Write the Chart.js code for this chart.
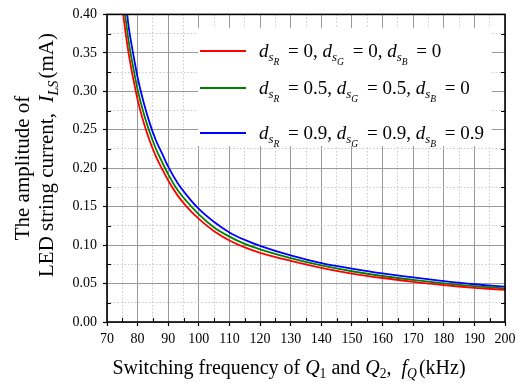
<!DOCTYPE html>
<html>
<head>
<meta charset="utf-8">
<script src="https://cdn.jsdelivr.net/npm/chart.js@4"></script>
<style>
html, body { margin: 0; padding: 0; background: #fff; }
#wrap { width: 522px; height: 384px; }
</style>
</head>
<body>
<div id="wrap"><canvas id="ilsChart"></canvas></div>
<script>
// values (kHz, mA)
const redFreq   = [75.3, 76, 77, 78, 79, 80, 82, 84, 86, 88, 90, 93, 96, 100, 105, 110, 115, 120, 130, 140, 150, 160, 170, 180, 190, 200];
const redAmp    = [0.400, 0.378, 0.351, 0.328, 0.308, 0.289, 0.259, 0.235, 0.215, 0.199, 0.184, 0.165, 0.150, 0.134, 0.118, 0.106, 0.097, 0.0900, 0.0795, 0.0705, 0.0630, 0.0572, 0.0523, 0.0480, 0.0445, 0.0417];
const greenFreq = [75.9, 77, 78, 79, 80, 82, 84, 86, 88, 90, 93, 96, 100, 105, 110, 115, 120, 130, 140, 150, 160, 170, 180, 190, 200];
const greenAmp  = [0.400, 0.367, 0.343, 0.322, 0.302, 0.271, 0.246, 0.225, 0.208, 0.192, 0.172, 0.157, 0.140, 0.123, 0.111, 0.1015, 0.0945, 0.0830, 0.0735, 0.0660, 0.0598, 0.0548, 0.0503, 0.0466, 0.0437];
const blueFreq  = [76.6, 77, 78, 79, 80, 82, 84, 86, 88, 90, 93, 96, 100, 105, 110, 115, 120, 130, 140, 150, 160, 170, 180, 190, 200];
const blueAmp   = [0.400, 0.386, 0.361, 0.339, 0.318, 0.285, 0.258, 0.236, 0.219, 0.202, 0.181, 0.165, 0.147, 0.130, 0.1165, 0.1067, 0.0990, 0.0865, 0.0765, 0.0695, 0.0632, 0.0580, 0.0532, 0.0491, 0.0460];

// legend values d_sR, d_sG, d_sB for each curve
const dsR = ["0", "0.5", "0.9"];
const dsG = ["0", "0.5", "0.9"];
const dsB = ["0", "0", "0.9"];
const seriesColors = ["#ff0000", "#008000", "#0000ff"];

const xMin = 70, xMax = 200, xMajor = 10, xMinor = 5;
const yMin = 0, yMax = 0.40, yMajor = 0.05, yMinor = 0.025;

const SERIF = '"Liberation Serif", "Times New Roman", serif';

function toPoints(xs, ys) {
    return xs.map((x, i) => ({ x: x, y: ys[i] }));
}

function isMajorX(v) { return Math.abs(v % xMajor) < 1e-6; }
function isMajorY(v) { return Math.abs(Math.round(v * 1000) % Math.round(yMajor * 1000)) === 0; }

function partFont(p, base) {
    const lvl = p.lvl || 0;
    const size = lvl === 2 ? base * 0.5 : lvl === 1 ? base * 0.68 : base;
    return (p.it ? "italic " : "") + size + "px " + SERIF;
}

// draw a run of text pieces with italics and (sub)subscripts
function drawParts(ctx, parts, x, y, base) {
    let cx = x;
    parts.forEach(p => {
        const lvl = p.lvl || 0;
        const dy = lvl === 2 ? base * 0.42 : lvl === 1 ? base * 0.22 : 0;
        ctx.font = partFont(p, base);
        ctx.fillText(p.t, cx, y + dy);
        cx += ctx.measureText(p.t).width + (p.gap || 0);
    });
    return cx - x;
}

function measureParts(ctx, parts, base) {
    let w = 0;
    parts.forEach(p => {
        ctx.font = partFont(p, base);
        w += ctx.measureText(p.t).width + (p.gap || 0);
    });
    return w;
}

function dParts(sub, val, last) {
    return [
        { t: "d", it: true },
        { t: "s", it: true, lvl: 1 },
        { t: sub, it: true, lvl: 2, gap: 4 },
        { t: " = " + val + (last ? "" : ", ") }
    ];
}

const framePlugin = {
    id: "frame",
    afterDraw(chart) {
        const ctx = chart.ctx;
        const a = chart.chartArea;
        const xs = chart.scales.x, ys = chart.scales.y;
        ctx.save();

        // legend box
        ctx.fillStyle = "#fff";
        ctx.fillRect(198, 28, 294, 118);
        const lineY = [51, 88, 133];
        const textY = [57, 94, 139];
        ctx.fillStyle = "#000";
        ctx.textBaseline = "alphabetic";
        ctx.textAlign = "left";
        for (let i = 0; i < 3; i++) {
            ctx.strokeStyle = seriesColors[i];
            ctx.lineWidth = 1.8;
            ctx.beginPath();
            ctx.moveTo(200, lineY[i]);
            ctx.lineTo(246, lineY[i]);
            ctx.stroke();
            const parts = [].concat(dParts("R", dsR[i]), dParts("G", dsG[i]), dParts("B", dsB[i], true));
            drawParts(ctx, parts, 259, textY[i], 19);
        }

        // minor ticks pointing inwards
        ctx.strokeStyle = "#000";
        ctx.lineWidth = 1;
        ctx.beginPath();
        for (let v = xMin; v <= xMax; v += xMinor) {
            if (isMajorX(v)) continue;
            const px = Math.round(xs.getPixelForValue(v)) + 0.5;
            ctx.moveTo(px, a.bottom);
            ctx.lineTo(px, a.bottom - 4);
        }
        for (let k = 0; k * yMinor <= yMax + 1e-9; k++) {
            const v = k * yMinor;
            if (isMajorY(v)) continue;
            const py = Math.round(ys.getPixelForValue(v)) + 0.5;
            ctx.moveTo(a.left, py);
            ctx.lineTo(a.left + 4, py);
            ctx.moveTo(a.right, py);
            ctx.lineTo(a.right - 4, py);
        }
        ctx.stroke();

        // frame
        ctx.lineWidth = 1.6;
        ctx.strokeRect(a.left, a.top, a.right - a.left, a.bottom - a.top);

        // x axis title
        const xTitle = [
            { t: "Switching frequency of " },
            { t: "Q", it: true },
            { t: "1", lvl: 1 },
            { t: " and " },
            { t: "Q", it: true },
            { t: "2", lvl: 1 },
            { t: ",  " },
            { t: "f", it: true },
            { t: "Q", it: true, lvl: 1, gap: 2 },
            { t: "(kHz)" }
        ];
        const w = measureParts(ctx, xTitle, 20);
        drawParts(ctx, xTitle, 289 - w / 2, 374, 20);

        // y axis title, two lines reading upwards
        ctx.translate(0, 0);
        const line1 = [{ t: "The amplitude of" }];
        const line2 = [
            { t: "LED string current,  " },
            { t: "I", it: true },
            { t: "LS", it: true, lvl: 1, gap: 2 },
            { t: "(mA)" }
        ];
        ctx.translate(29, 0);
        ctx.rotate(-Math.PI / 2);
        const w1 = measureParts(ctx, line1, 21);
        const w2 = measureParts(ctx, line2, 21);
        drawParts(ctx, line1, -168 - w1 / 2, 0, 21);
        drawParts(ctx, line2, -155 - w2 / 2, 24, 21);
        ctx.restore();
    }
};

new Chart(document.getElementById("ilsChart"), {
    type: "line",
    data: {
        datasets: [
            { data: toPoints(redFreq, redAmp), borderColor: seriesColors[0] },
            { data: toPoints(greenFreq, greenAmp), borderColor: seriesColors[1] },
            { data: toPoints(blueFreq, blueAmp), borderColor: seriesColors[2] }
        ]
    },
    options: {
        responsive: true,
        maintainAspectRatio: false,
        animation: false,
        layout: { padding: { left: 0, top: 11, right: 17, bottom: 0 } },
        elements: {
            point: { radius: 0 },
            line: { borderWidth: 1.8, cubicInterpolationMode: "monotone", fill: false }
        },
        plugins: {
            legend: { display: false },
            tooltip: { enabled: false }
        },
        scales: {
            x: {
                type: "linear",
                min: xMin,
                max: xMax,
                afterFit: s => { s.height = 62; },
                ticks: {
                    stepSize: xMinor,
                    autoSkip: false,
                    maxRotation: 0,
                    padding: 5,
                    color: "#000",
                    font: { family: SERIF, size: 14 },
                    callback: v => isMajorX(v) ? String(v) : ""
                },
                grid: {
                    color: c => isMajorX(c.tick.value) ? "#999" : "#c8c8c8",
                    lineWidth: 1,
                    tickLength: 4,
                    tickWidth: 1.2,
                    tickColor: c => isMajorX(c.tick.value) ? "#000" : "rgba(0,0,0,0)"
                },
                border: {
                    display: false,
                    dash: c => (c.tick && isMajorX(c.tick.value)) ? [] : [1.5, 2]
                }
            },
            y: {
                min: yMin,
                max: yMax,
                afterFit: s => { s.width = 107; },
                ticks: {
                    stepSize: yMinor,
                    autoSkip: false,
                    padding: 6,
                    color: "#000",
                    font: { family: SERIF, size: 14 },
                    callback: v => isMajorY(v) ? v.toFixed(2) : ""
                },
                grid: {
                    color: c => isMajorY(c.tick.value) ? "#999" : "#c8c8c8",
                    lineWidth: 1,
                    tickLength: 4,
                    tickWidth: 1.2,
                    tickColor: c => isMajorY(c.tick.value) ? "#000" : "rgba(0,0,0,0)"
                },
                border: {
                    display: false,
                    dash: c => (c.tick && isMajorY(c.tick.value)) ? [] : [1.5, 2]
                }
            }
        }
    },
    plugins: [framePlugin]
});
</script>
</body>
</html>
